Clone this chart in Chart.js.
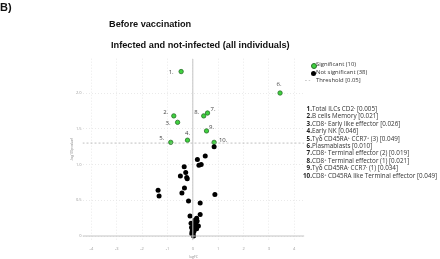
<!DOCTYPE html>
<html>
<head>
<meta charset="utf-8">
<script src="https://cdn.jsdelivr.net/npm/chart.js@4.4.1/dist/chart.umd.min.js"></script>
<style>
    html, body { margin: 0; padding: 0; background: #fff; }
    #wrap { position: relative; width: 440px; height: 259px; overflow: hidden; }
    #plot { position: absolute; left: 0; top: 0; }
    .ttl { position: absolute; white-space: nowrap; font-family: "Liberation Sans", Arial, sans-serif; font-weight: bold; color: #111; line-height: 1; }
    .leg { position: absolute; white-space: nowrap; font-family: "Open Sans", sans-serif; font-size: 5.9px; color: #333; line-height: 1; }
    .row { font-size: 6.3px; }
    .leg b { display: inline-block; width: 10px; text-align: right; font-weight: bold; color: #222; }
    .leg sup { font-size: 3.8px; vertical-align: 2px; }
    .dot { position: absolute; width: 5px; height: 5px; border-radius: 50%; }
</style>
</head>
<body>
<div id="wrap">
    <canvas id="plot" width="440" height="259"></canvas>
    <div class="ttl" style="left:0;top:2px;font-size:11px;">B)</div>
    <div class="ttl" style="left:109px;top:19.5px;font-size:9.2px;">Before vaccination</div>
    <div class="ttl" style="left:111px;top:40.5px;font-size:9.2px;">Infected and not-infected (all individuals)</div>

    <div class="dot" style="left:310.5px;top:62.5px;background:#3fd13f;border:0.8px solid #2b6e2b;width:4px;height:4px;"></div>
    <div class="leg" style="left:316px;top:62px;">Significant (10)</div>
    <div class="dot" style="left:310.5px;top:70.5px;background:#000;"></div>
    <div class="leg" style="left:316px;top:70px;">Not significant (38)</div>
    <div class="leg" style="left:305px;top:78px;color:#888;">- -</div>
    <div class="leg" style="left:316px;top:78px;">Threshold [0.05]</div>

    <div id="list"></div>
</div>
<script>
    'use strict';

    // significant cell populations (green)
    var SIG_NAMES = [
        'Total ILCs CD2<sup>-</sup>',
        'B cells Memory',
        'CD8<sup>+</sup> Early like effector',
        'Early NK',
        'T&gamma;&delta; CD45RA<sup>+</sup> CCR7<sup>+</sup> (3)',
        'Plasmablasts',
        'CD8<sup>+</sup> Terminal effector (2)',
        'CD8<sup>+</sup> Terminal effector (1)',
        'T&gamma;&delta; CD45RA<sup>-</sup> CCR7<sup>-</sup> (1)',
        'CD8<sup>+</sup> CD45RA like Terminal effector'
    ];
    var SIG_PVALUES = ['0.005', '0.021', '0.026', '0.046', '0.049', '0.010', '0.019', '0.021', '0.034', '0.049'];
    var SIG_X = [-0.46, -0.75, -0.60, -0.21, -0.87, 3.44, 0.58, 0.43, 0.54, 0.84];
    var SIG_Y = [2.30, 1.68, 1.59, 1.34, 1.31, 2.00, 1.72, 1.68, 1.47, 1.31];

    // not significant (black)
    var NS_X = [0.84, 0.49, 0.18, 0.24, 0.33, -0.34, -0.28, -0.49, -0.24, -0.22,
        -1.37, -1.33, -0.33, -0.43, 0.87, -0.17, 0.29, -0.11, 0.29, 0.15,
        0.08, 0.17, -0.07, 0.12, 0.22, 0.01, 0.07, -0.01, -0.03, 0.05,
        0.00, 0.03, 0.10, -0.05, 0.15, -0.04, 0.06, 0.02];
    var NS_Y = [1.25, 1.12, 1.07, 0.99, 1.00, 0.97, 0.89, 0.84, 0.82, 0.80,
        0.64, 0.56, 0.67, 0.60, 0.58, 0.49, 0.46, 0.28, 0.30, 0.25,
        0.22, 0.21, 0.18, 0.18, 0.14, 0.13, 0.11, 0.09, 0.06, 0.07,
        0.03, 0.00, 0.19, 0.12, 0.10, 0.03, 0.15, 0.05];

    var THRESHOLD_Y = 1.30;
    var X_TICKS = [-4, -3, -2, -1, 0, 1, 2, 3, 4];
    var Y_TICKS = [0, 0.5, 1, 1.5, 2];
    var X_MIN = -4.35, X_MAX = 4.4;
    var Y_MIN = -0.06, Y_MAX = 2.48;

    // label offsets in px from each green point
    var LABEL_OFFSETS = [[-10, 1], [-8, -4], [-9.5, 1], [0, -7], [-9, -4.5],
        [-1, -9], [5.5, -4], [-7, -4], [5, -4], [9, -2.5]];

    var list = document.getElementById('list');
    for (var i = 0; i < SIG_NAMES.length; i++) {
        var row = document.createElement('div');
        row.className = 'leg row';
        row.style.left = '302px';
        row.style.top = (106 + i * 7.4) + 'px';
        row.innerHTML = '<b>' + (i + 1) + '.</b>' + SIG_NAMES[i] + ' [' + SIG_PVALUES[i] + ']';
        list.appendChild(row);
    }

    function points(xs, ys) {
        var out = [];
        for (var i = 0; i < xs.length; i++) {
            out.push({ x: xs[i], y: ys[i] });
        }
        return out;
    }

    var pointLabels = {
        id: 'pointLabels',
        afterDatasetsDraw: function (chart) {
            var meta = chart.getDatasetMeta(4);
            var c = chart.ctx;
            c.save();
            c.font = '6px "Open Sans", sans-serif';
            c.fillStyle = '#444';
            c.textAlign = 'center';
            c.textBaseline = 'middle';
            meta.data.forEach(function (el, i) {
                c.fillText((i + 1) + '.', el.x + LABEL_OFFSETS[i][0], el.y + LABEL_OFFSETS[i][1]);
            });
            c.restore();
        }
    };

    new Chart(document.getElementById('plot'), {
        type: 'scatter',
        data: {
            datasets: [
                {
                    type: 'line',
                    data: [{ x: 0, y: Y_MIN }, { x: 0, y: Y_MAX }],
                    borderColor: '#c4c4c4', borderWidth: 1, pointRadius: 0
                },
                {
                    type: 'line',
                    data: [{ x: X_MIN, y: 0 }, { x: X_MAX, y: 0 }],
                    borderColor: '#c4c4c4', borderWidth: 1, pointRadius: 0
                },
                {
                    type: 'line',
                    data: [{ x: X_MIN, y: THRESHOLD_Y }, { x: X_MAX, y: THRESHOLD_Y }],
                    borderColor: '#b0b0b0', borderWidth: 0.8, borderDash: [2, 2], pointRadius: 0
                },
                {
                    label: 'Not significant',
                    data: points(NS_X, NS_Y),
                    backgroundColor: '#000', borderColor: '#000', borderWidth: 0, pointRadius: 2.5
                },
                {
                    label: 'Significant',
                    data: points(SIG_X, SIG_Y),
                    backgroundColor: '#3fd13f', borderColor: '#2b6e2b', borderWidth: 0.8, pointRadius: 2.2
                }
            ]
        },
        options: {
            responsive: false,
            animation: false,
            layout: { padding: { left: 60, top: 58.7, right: 135.6, bottom: 0 } },
            plugins: { legend: { display: false }, tooltip: { enabled: false } },
            scales: {
                x: {
                    type: 'linear', min: X_MIN, max: X_MAX,
                    afterBuildTicks: function (s) { s.ticks = X_TICKS.map(function (v) { return { value: v }; }); },
                    afterFit: function (s) { s.height = 18.7; },
                    ticks: { font: { size: 4, family: 'Open Sans' }, color: '#9a9a9a', padding: 6.5 },
                    grid: { color: '#e4e4e4', lineWidth: 0.8, drawTicks: false },
                    border: { display: false, dash: [1, 2] },
                    title: { display: true, text: 'logFC', font: { size: 3.5, family: 'Open Sans' }, color: '#8a8a8a', padding: 0 }
                },
                y: {
                    type: 'linear', min: Y_MIN, max: Y_MAX,
                    afterBuildTicks: function (s) { s.ticks = Y_TICKS.map(function (v) { return { value: v }; }); },
                    afterFit: function (s) { s.width = 22.5; },
                    ticks: { font: { size: 4, family: 'Open Sans' }, color: '#9a9a9a', padding: 1 },
                    grid: { color: '#e4e4e4', lineWidth: 0.8, drawTicks: false },
                    border: { display: false, dash: [1, 2] },
                    title: { display: true, text: '-log10(pvalue)', font: { size: 3.5, family: 'Open Sans' }, color: '#8a8a8a', padding: { top: 10, bottom: 0 } }
                }
            }
        },
        plugins: [pointLabels]
    });
</script>
</body>
</html>
